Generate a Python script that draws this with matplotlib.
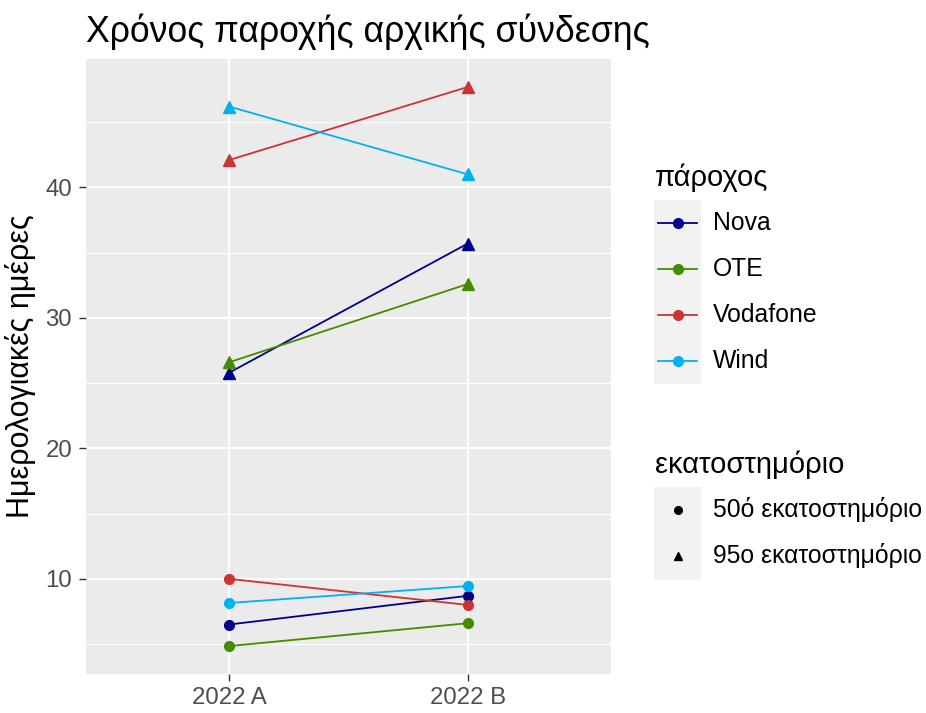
import matplotlib
matplotlib.use("Agg")
import matplotlib.pyplot as plt
from matplotlib.lines import Line2D
from matplotlib.patches import Rectangle

plt.rcParams['font.family'] = ['Liberation Sans', 'DejaVu Sans']

# données
periodes = ['2022 A', '2022 B']
paroxoi = ['Nova', 'OTE', 'Vodafone', 'Wind']
couleurs = ['#00008B', '#458B00', '#CD3333', '#00B2EE']

p50_a = [6.5, 4.85, 10.0, 8.15]
p50_b = [8.7, 6.6, 8.0, 9.45]
p95_a = [25.8, 26.6, 42.1, 46.2]
p95_b = [35.7, 32.6, 47.7, 41.0]

W, H = 926, 713
fig = plt.figure(figsize=(W / 100, H / 100), dpi=100)

# panneau : pixels 86..611 en x, 59..674 en y
ax = fig.add_axes([86 / W, 1 - 674 / H, (611 - 86) / W, (674 - 59) / H])
ax.set_facecolor('#EBEBEB')
for s in ax.spines.values():
    s.set_visible(False)

x = list(range(len(periodes)))
for i, nom in enumerate(paroxoi):
    ax.plot(x, [p50_a[i], p50_b[i]], '-', color=couleurs[i], lw=1.3,
            marker='o', ms=7, zorder=3)
    ax.plot(x, [p95_a[i], p95_b[i]], '-', color=couleurs[i], lw=1.3,
            marker='^', ms=8, zorder=3)

ax.set_xlim(-0.6, 1.6)
ax.margins(y=0.05)
ax.set_xticks(x)
ax.set_xticklabels(periodes)
ax.set_yticks([10, 20, 30, 40])
ax.set_yticks([5, 15, 25, 35, 45], minor=True)
ax.grid(True, which='major', color='white', lw=1.5, zorder=0)
ax.grid(True, which='minor', axis='y', color='white', lw=0.8, zorder=0)
ax.set_axisbelow(True)
ax.tick_params(which='major', length=5, width=1, color='#333333',
               labelcolor='#4D4D4D', labelsize=17.3)
ax.tick_params(axis='y', pad=5)
ax.tick_params(axis='x', pad=4)
ax.tick_params(which='minor', length=0)
ax.set_ylabel('Ημερολογιακές ημέρες', fontsize=22, labelpad=7)

fig.text(86 / W, 1 - 42 / H, 'Χρόνος παροχής αρχικής σύνδεσης',
         fontsize=25.7, va='baseline', ha='left')

# légendes dessinées à la main en coordonnées pixels
lg = fig.add_axes([0, 0, 1, 1])
lg.set_xlim(0, W)
lg.set_ylim(H, 0)
lg.axis('off')

lg.text(655, 178, 'πάροχος', fontsize=21, va='center', ha='left')
lg.add_patch(Rectangle((654, 200), 47, 184, color='#F2F2F2', lw=0))
for i, nom in enumerate(paroxoi):
    yc = 223 + i * 46
    lg.add_line(Line2D([658, 697], [yc, yc], color=couleurs[i], lw=1.3))
    lg.plot([677.5], [yc], 'o', color=couleurs[i], ms=7)
    lg.text(713, yc, nom, fontsize=17.8, va='center', ha='left')

lg.text(655, 465, 'εκατοστημόριο', fontsize=21, va='center', ha='left')
lg.add_patch(Rectangle((654, 487), 47, 93, color='#F2F2F2', lw=0))
formes = ['o', '^']
noms_pct = ['50ό εκατοστημόριο', '95ο εκατοστημόριο']
for j, nom in enumerate(noms_pct):
    yc = 510 + j * 46
    lg.plot([677.5], [yc], formes[j], color='black', ms=5.5)
    lg.text(713, yc, nom, fontsize=17.8, va='center', ha='left')

fig.savefig('out.png', dpi=100)
